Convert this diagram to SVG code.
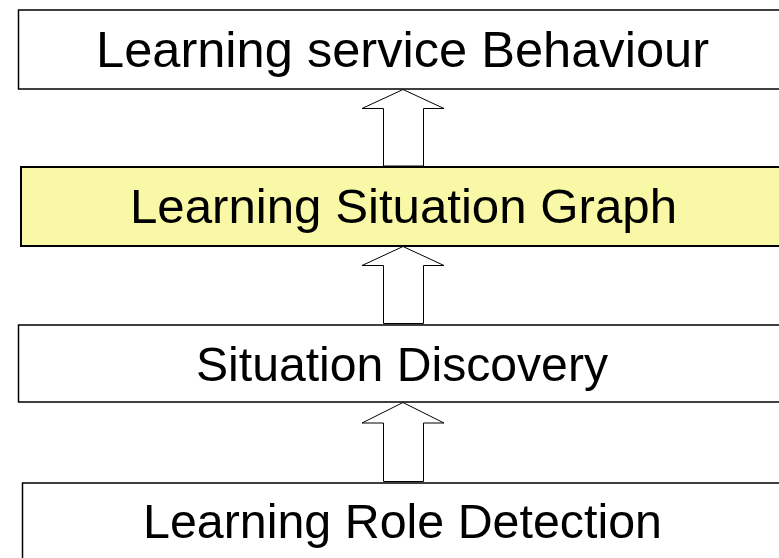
<svg xmlns="http://www.w3.org/2000/svg" width="779" height="558" viewBox="0 0 779 558">
<style>
.box{fill:#ffffff;stroke:#000;stroke-width:1.5}
.hl{fill:#f8f8a6;stroke:#000;stroke-width:2}
.lbl{font-family:"Liberation Sans",Arial,Helvetica,sans-serif;fill:#000;text-anchor:middle}
.arr{fill:#ffffff;stroke:#000;stroke-width:1;stroke-linejoin:miter}
</style>
<rect width="779" height="558" fill="#ffffff"/>
<g id="node-behaviour">
<rect class="box" x="18.5" y="10" width="800" height="79"/>
<text class="lbl" x="402.5" y="67" font-size="50" textLength="613" lengthAdjust="spacingAndGlyphs">Learning service Behaviour</text>
</g>
<g id="node-graph">
<rect class="hl" x="21" y="167" width="800" height="79"/>
<text class="lbl" x="403.5" y="223" font-size="48" textLength="547" lengthAdjust="spacingAndGlyphs">Learning Situation Graph</text>
</g>
<g id="node-discovery">
<rect class="box" x="18.5" y="325" width="800" height="77"/>
<text class="lbl" x="402" y="381" font-size="48" textLength="412" lengthAdjust="spacingAndGlyphs">Situation Discovery</text>
</g>
<g id="node-role">
<rect class="box" x="22.5" y="483" width="800" height="100"/>
<text class="lbl" x="402.5" y="538" font-size="48" textLength="519" lengthAdjust="spacingAndGlyphs">Learning Role Detection</text>
</g>
<g id="connectors">
<polygon class="arr" points="403,89.5 444,108.5 423.5,108.5 423.5,166 383.5,166 383.5,108.5 362,108.5"/>
<polygon class="arr" points="403,246.5 444,265.5 423.5,265.5 423.5,323.5 383.5,323.5 383.5,265.5 362,265.5"/>
<polygon class="arr" points="403,402.5 444,423 423.5,423 423.5,481.5 383.5,481.5 383.5,423 362,423"/>
</g>
</svg>
